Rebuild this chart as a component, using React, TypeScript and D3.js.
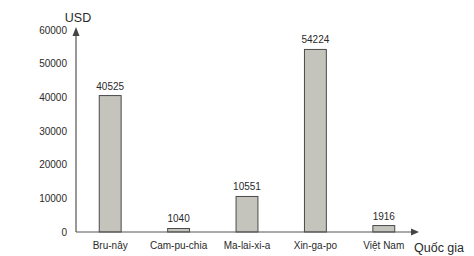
import React from "react";
import * as d3 from "d3";

const categories = ["Bru-nây", "Cam-pu-chia", "Ma-lai-xi-a", "Xin-ga-po", "Việt Nam"];
const values = [40525, 1040, 10551, 54224, 1916];
const yTicks = [0, 10000, 20000, 30000, 40000, 50000, 60000];

const W = 474;
const H = 256;

export default function App() {
  const x = d3
    .scaleBand<string>()
    .domain(categories)
    .range([76, 418])
    .paddingInner(0.68)
    .paddingOuter(0.34);
  const y = d3.scaleLinear().domain([0, 60000]).range([232, 30]);
  const font = "'Liberation Sans', Arial, sans-serif";
  const ink = "#2a2a2a";
  const x0 = 76;
  const y0 = y(0);

  return (
    <svg
      width={W}
      height={H}
      style={{ position: "absolute", left: 0, top: 0, background: "#fff" }}
      fontFamily={font}
    >
      {/* bars */}
      {categories.map((c, i) => (
        <g key={c}>
          <rect
            x={x(c)!}
            y={y(values[i])}
            width={x.bandwidth()}
            height={y0 - y(values[i])}
            fill="#c4c4bd"
            stroke="#4a4a4a"
            strokeWidth={1}
          />
          <text
            x={x(c)! + x.bandwidth() / 2}
            y={y(values[i]) - 6}
            textAnchor="middle"
            fontSize={10}
            fill={ink}
          >
            {values[i]}
          </text>
          <text
            x={x(c)! + x.bandwidth() / 2}
            y={249}
            textAnchor="middle"
            fontSize={10}
            fill={ink}
          >
            {c}
          </text>
        </g>
      ))}
      {/* y axis */}
      <line x1={x0} y1={y0} x2={x0} y2={34} stroke="#555" strokeWidth={1.2} />
      <path d={`M${x0 - 3.5},${36} L${x0},${27} L${x0 + 3.5},${36} Z`} fill="#444" />
      {yTicks.map((t) => (
        <text key={t} x={67} y={y(t) + 3.5} textAnchor="end" fontSize={10} fill={ink}>
          {t}
        </text>
      ))}
      <text x={78} y={22} textAnchor="middle" fontSize={12.5} fill={ink}>
        USD
      </text>
      {/* x axis */}
      <line x1={x0} y1={y0} x2={413} y2={y0} stroke="#555" strokeWidth={1.2} />
      <path d={`M${411},${y0 - 3.5} L${419},${y0} L${411},${y0 + 3.5} Z`} fill="#444" />
      <text x={414} y={252} fontSize={12.5} fill={ink}>
        Quốc gia
      </text>
    </svg>
  );
}
